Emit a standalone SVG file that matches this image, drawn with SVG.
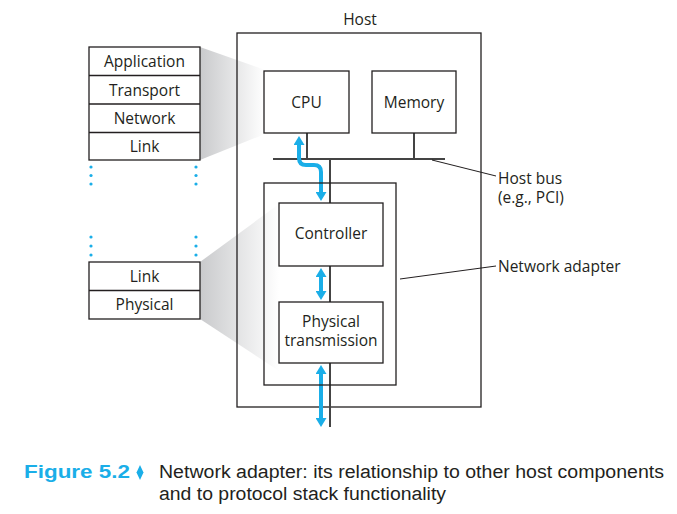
<svg xmlns="http://www.w3.org/2000/svg" width="677" height="514" viewBox="0 0 677 514">
<defs>
<linearGradient id="shade" x1="0" y1="0" x2="1" y2="0">
<stop offset="0" stop-color="#c9cacc"/>
<stop offset="1" stop-color="#ffffff"/>
</linearGradient>
<marker id="ah" viewBox="0 0 9 11" markerWidth="9" markerHeight="11" refX="1" refY="5.5" orient="auto-start-reverse" markerUnits="userSpaceOnUse">
<path d="M0,0 L9,5.5 L0,11 z" fill="#1aaee8"/>
</marker>
<style>
.box{fill:#fff;stroke:#231f20;stroke-width:1.3}
.frame{fill:none;stroke:#231f20;stroke-width:1.3}
.t{font-family:"Open Sans","Liberation Sans",Arial,sans-serif;font-size:15.5px;fill:#231f20}
.c{text-anchor:middle}
.bus{stroke:#444;stroke-width:2;fill:none}
.lead{stroke:#231f20;stroke-width:1;fill:none}
.blue{stroke:#1aaee8;stroke-width:4;fill:none;marker-start:url(#ah);marker-end:url(#ah)}
.dot{fill:#1aaee8}
.cap{font-family:"Liberation Sans",Arial,sans-serif;font-size:18px;fill:#231f20}
</style>
</defs>
<rect width="677" height="514" fill="#fff"/>
<polygon points="200,47 265,70 265,134 200,160" fill="url(#shade)"/>
<polygon points="200,262 279,204 279,371 200,319" fill="url(#shade)"/>

<g id="host">
<rect class="frame" x="237" y="33" width="244" height="374"/>
<text class="t c" x="360" y="25">Host</text>
</g>

<g id="connectors">
<line class="bus" x1="273" y1="159" x2="445" y2="159"/>
<line class="bus" x1="307" y1="133" x2="307" y2="159"/>
<line class="bus" x1="414" y1="133" x2="414" y2="159"/>
<line class="bus" x1="330" y1="159" x2="330" y2="427"/>
<line class="lead" x1="432" y1="160" x2="496" y2="176"/>
<line class="lead" x1="400" y1="279" x2="496" y2="266"/>
<path class="blue" d="M299,144 L299,158 Q299,165 306,165 L314,165 Q321,165 321,172 L321,193"/>
<path class="blue" d="M321,276 L321,292"/>
<path class="blue" d="M321,373 L321,419"/>
</g>

<g id="stack-top">
<rect class="box" x="89" y="47" width="111" height="113"/>
<line class="frame" x1="89" y1="75.5" x2="200" y2="75.5"/>
<line class="frame" x1="89" y1="104" x2="200" y2="104"/>
<line class="frame" x1="89" y1="132.5" x2="200" y2="132.5"/>
<text class="t c" x="144.5" y="67">Application</text>
<text class="t c" x="144.5" y="95.5">Transport</text>
<text class="t c" x="144.5" y="124">Network</text>
<text class="t c" x="144.5" y="152">Link</text>
</g>
<g id="dots">
<circle class="dot" cx="91" cy="167" r="1.6"/><circle class="dot" cx="91" cy="175.5" r="1.6"/><circle class="dot" cx="91" cy="184" r="1.6"/>
<circle class="dot" cx="196" cy="167" r="1.6"/><circle class="dot" cx="196" cy="175.5" r="1.6"/><circle class="dot" cx="196" cy="184" r="1.6"/>
<circle class="dot" cx="91" cy="237" r="1.6"/><circle class="dot" cx="91" cy="246" r="1.6"/><circle class="dot" cx="91" cy="255" r="1.6"/>
<circle class="dot" cx="196" cy="237" r="1.6"/><circle class="dot" cx="196" cy="246" r="1.6"/><circle class="dot" cx="196" cy="255" r="1.6"/>
</g>
<g id="stack-bottom">
<rect class="box" x="89" y="262" width="111" height="57"/>
<line class="frame" x1="89" y1="290.5" x2="200" y2="290.5"/>
<text class="t c" x="144.5" y="282">Link</text>
<text class="t c" x="144.5" y="310">Physical</text>
</g>

<g id="cpu">
<rect class="box" x="264" y="71" width="85" height="62"/>
<text class="t c" x="306.5" y="108">CPU</text>
</g>
<g id="memory">
<rect class="box" x="372" y="71" width="84" height="62"/>
<text class="t c" x="414" y="108">Memory</text>
</g>
<g id="adapter">
<rect class="frame" x="264" y="183" width="132" height="202"/>
</g>
<g id="controller">
<rect class="box" x="279" y="203" width="104" height="63"/>
<text class="t c" x="331" y="239">Controller</text>
</g>
<g id="phys">
<rect class="box" x="279" y="302" width="104" height="61"/>
<text class="t c" x="331" y="327">Physical</text>
<text class="t c" x="331" y="346">transmission</text>
</g>

<g id="labels">
<text class="t" x="498" y="184">Host bus</text>
<text class="t" x="498" y="203">(e.g., PCI)</text>
<text class="t" x="498" y="272">Network adapter</text>
</g>

<g id="caption">
<text x="24" y="478" font-family="Liberation Sans, Arial, sans-serif" font-size="19" font-weight="bold" fill="#1aaee8" textLength="106" lengthAdjust="spacingAndGlyphs">Figure 5.2</text>
<polygon points="140,465 143.5,472.5 140,480 136.5,472.5" fill="#1aaee8"/>
<text class="cap" x="159" y="478" textLength="505" lengthAdjust="spacingAndGlyphs">Network adapter: its relationship to other host components</text>
<text class="cap" x="159" y="500" textLength="287" lengthAdjust="spacingAndGlyphs">and to protocol stack functionality</text>
</g>
</svg>
